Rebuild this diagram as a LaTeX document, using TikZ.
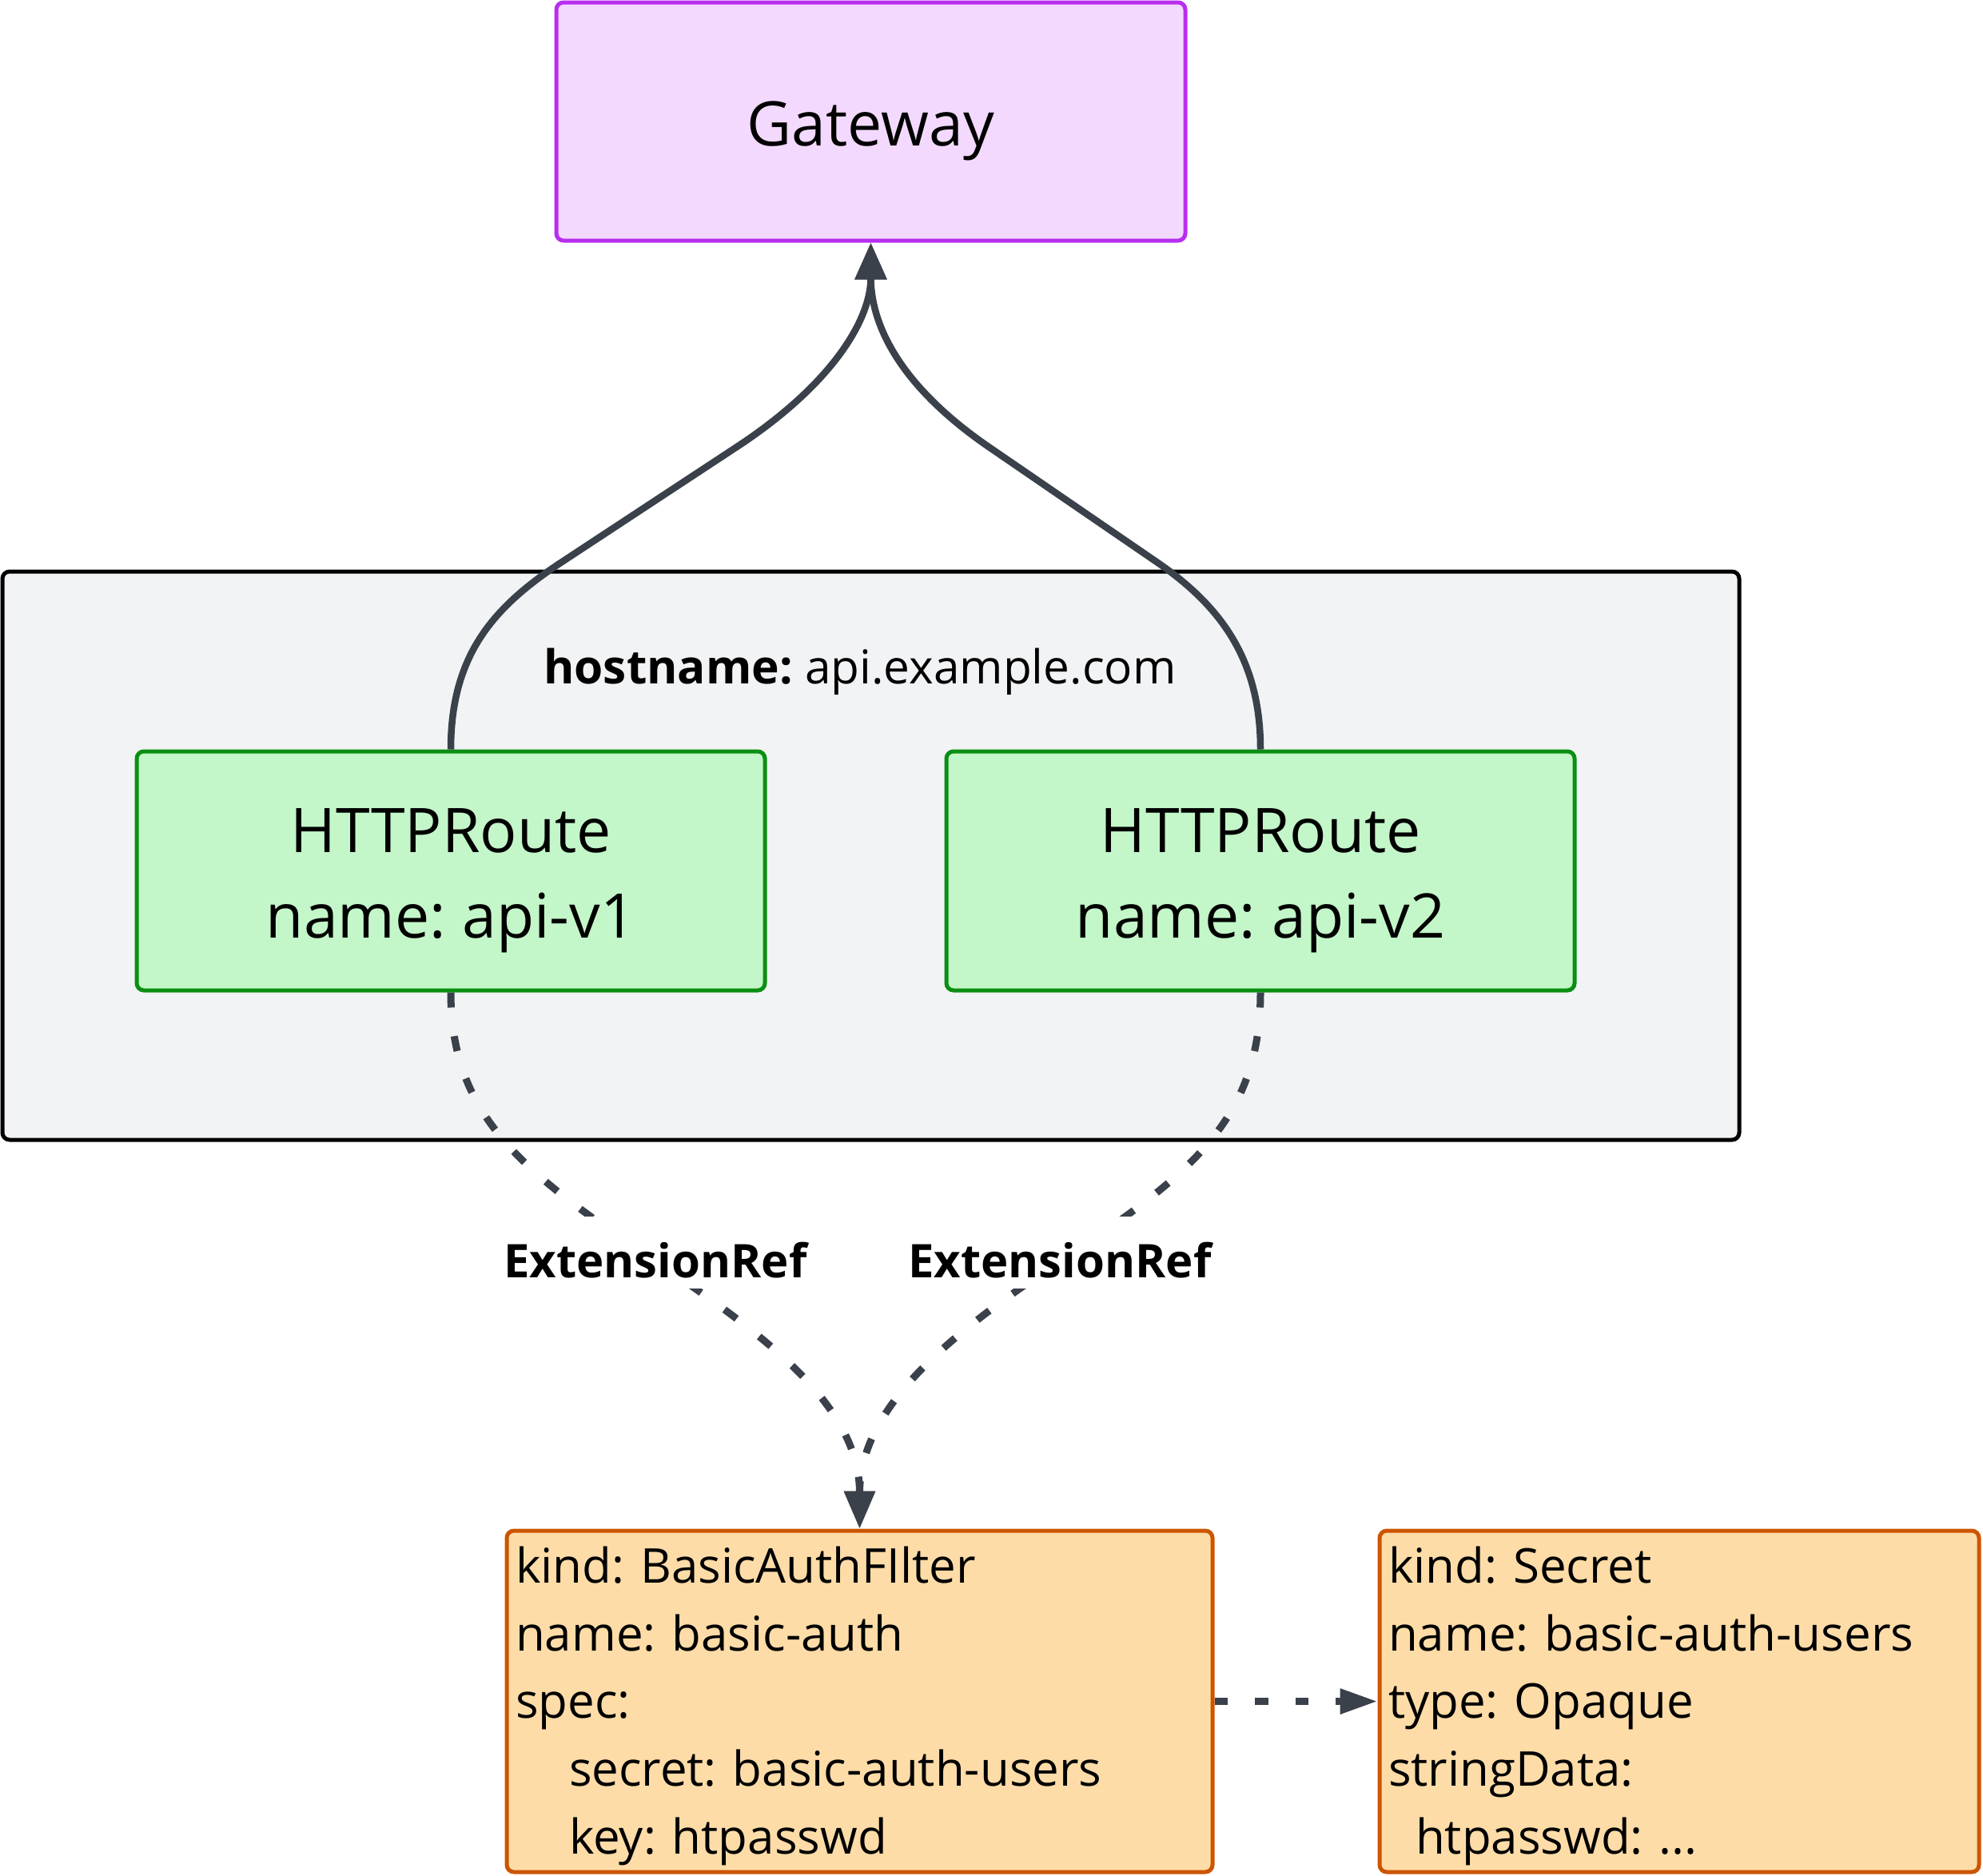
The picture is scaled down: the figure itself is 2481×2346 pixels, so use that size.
\documentclass[tikz,border=0pt]{standalone}
\usepackage{fontspec}
\setmainfont{Open Sans}
\usetikzlibrary{arrows.meta}
\definecolor{gwfill}{HTML}{F3D9FD}
\definecolor{gwline}{HTML}{B82EF0}
\definecolor{rtfill}{HTML}{C3F6C8}
\definecolor{rtline}{HTML}{0A8F12}
\definecolor{bxfill}{HTML}{FDDCA8}
\definecolor{bxline}{HTML}{CC5500}
\definecolor{nsfill}{HTML}{F2F3F5}
\definecolor{edgecol}{HTML}{3B414A}
\frenchspacing
\newcommand{\bigstrut}{\rule{0pt}{79pt}}
\newcommand{\smallstrut}{\rule{0pt}{57pt}}
\begin{document}
\begin{tikzpicture}[x=1pt,y=-1pt,
  box/.style={rectangle, rounded corners=9pt, line width=5pt, inner sep=0pt},
  big/.style={font=\fontsize{77}{107}\selectfont, align=center},
  small/.style={font=\fontsize{60}{84.6}\selectfont},
  solidedge/.style={draw=edgecol, line width=8.5pt, -{Triangle[length=46pt,width=38pt]}},
  dotedge/.style={draw=edgecol, line width=9pt, dash pattern=on 19pt off 36pt, -{Triangle[length=47pt,width=37pt]}},
  straightdot/.style={draw=edgecol, line width=9pt, dash pattern=on 16.5pt off 34pt, -{Triangle[length=47pt,width=30pt]}},
  elabel/.style={fill=white, font=\bfseries\fontsize{58}{70}\selectfont, text height=76pt, text depth=14pt, inner ysep=0pt, inner xsep=6pt}
  ]
\useasboundingbox (0,0) rectangle (2481,2346);
\node[box, draw=black, fill=nsfill, minimum width=2173pt, minimum height=711pt] (ns) at (1089.5,1070.5) {};
\node[font=\fontsize{58.5}{70}\selectfont] (hn) at (1076,840) {\textbf{hostname:} api.example.com};
\node[box, draw=gwline, fill=gwfill, big, minimum width=787pt, minimum height=298pt] (gw) at (1089.5,152) {\bigstrut Gateway};
\node[box, draw=rtline, fill=rtfill, big, minimum width=786pt, minimum height=299pt] (r1) at (564,1089.5) {\bigstrut HTTPRoute\\name: api-v1};
\node[box, draw=rtline, fill=rtfill, big, minimum width=786pt, minimum height=299pt] (r2) at (1577,1089.5) {\bigstrut HTTPRoute\\name: api-v2};
\node[box, draw=bxline, fill=bxfill, small, minimum width=883pt, minimum height=427pt, text width=861pt, align=left] (ba) at (1075.5,2128.5) {\smallstrut kind: BasicAuthFIlter\\name: basic-auth\\spec:\\\hspace*{67pt}secret: basic-auth-users\\\hspace*{67pt}key: htpasswd};
\node[box, draw=bxline, fill=bxfill, small, minimum width=750pt, minimum height=427pt, text width=728pt, align=left] (sc) at (2101,2128.5) {\smallstrut kind: Secret\\name: basic-auth-users\\type: Opaque\\stringData:\\\hspace*{34pt}htpasswd: ...};
\draw[solidedge] (r1.north) .. controls (564,820) and (617,760) .. (700,705) -- (925,557) .. controls (1041,480) and (1089.5,400) .. (gw.south);
\draw[solidedge] (r2.north) .. controls (1577,830) and (1532,762) .. (1450,705) -- (1234,557) .. controls (1119,477) and (1089.5,400) .. (gw.south);
\coordinate (m1) at (820,1578);
\coordinate (m2) at (1326,1578);
\draw[dotedge] (r1.south) .. controls (564,1400) and (660,1470) .. (m1) .. controls (960,1672) and (1075.5,1760) .. (ba.north);
\draw[dotedge] (r2.south) .. controls (1577,1400) and (1490,1470) .. (m2) .. controls (1190,1668) and (1075.5,1760) .. (ba.north);
\draw[straightdot] (ba.east) -- (sc.west);
\node[elabel] (l1) at (820,1567) {ExtensionRef};
\node[elabel] (l2) at (1326,1567) {ExtensionRef};
\end{tikzpicture}
\end{document}
